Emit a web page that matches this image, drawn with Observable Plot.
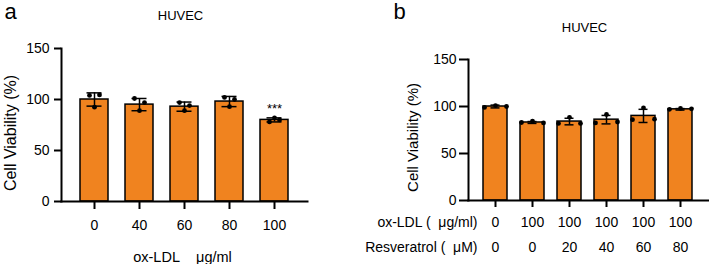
<!DOCTYPE html>
<html>
<head>
<meta charset="utf-8">
<script src="https://cdn.jsdelivr.net/npm/d3@7"></script>
<script src="https://cdn.jsdelivr.net/npm/@observablehq/plot@0.6"></script>
<style>
  html, body { margin: 0; padding: 0; background: #fff; }
  #wrap { display: flex; width: 709px; height: 264px; }
</style>
</head>
<body>
<div id="wrap"></div>
<script>
// ---------- Panel a data ----------
const catsA = ["0", "40", "60", "80", "100"];
const meanA = [100, 95, 93, 98, 80];
const sdA = [6.5, 6, 4.5, 5, 2];
const repLeftA = [104, 101, 97, 102, 78];
const repMidA = [92.5, 89, 89, 93, 82];
const repRightA = [104.5, 97, 94, 100, 80];
const sigA = ["", "", "", "", "***"];

// ---------- Panel b data ----------
const oxB = ["0", "100", "100", "100", "100", "100"];
const resB = ["0", "0", "20", "40", "60", "80"];
const meanB = [100, 83, 84, 86, 90, 97];
const sdB = [1.5, 1, 3.5, 4.5, 7, 0.8];
const repLeftB = [99, 83, 82, 82.5, 86, 97];
const repMidB = [101, 84.5, 88.5, 91.5, 98.5, 98];
const repRightB = [100, 82.5, 82, 83.5, 86.5, 97.5];

const yTicks = [0, 50, 100, 150];

const ORANGE = "#F0831F";
const FONT = "'Liberation Sans', Arial, Helvetica, sans-serif";

const dataA = catsA.map((c, i) => ({
  key: c, mean: meanA[i], sd: sdA[i],
  l: repLeftA[i], m: repMidA[i], r: repRightA[i], sig: sigA[i]
}));
const dataB = oxB.map((o, i) => ({
  key: o + "|" + resB[i], ox: o, res: resB[i], mean: meanB[i], sd: sdB[i],
  l: repLeftB[i], m: repMidB[i], r: repRightB[i]
}));

function barMarks(data, opts) {
  return [
    Plot.barY(data, {x: "key", y: "mean", fill: ORANGE, stroke: "black", strokeWidth: 1.5}),
    Plot.ruleX(data, {x: "key", y1: d => d.mean - d.sd, y2: d => d.mean + d.sd, stroke: "black", strokeWidth: 1.5}),
    Plot.tickY(data, {x: "key", y: d => d.mean + d.sd, stroke: "black", strokeWidth: 1.5, inset: opts.capInset}),
    Plot.tickY(data, {x: "key", y: d => d.mean - d.sd, stroke: "black", strokeWidth: 1.5, inset: opts.capInset}),
    Plot.dot(data, {x: "key", y: "l", dx: -opts.spread, r: 2.4, fill: "black"}),
    Plot.dot(data, {x: "key", y: "m", r: 2.4, fill: "black"}),
    Plot.dot(data, {x: "key", y: "r", dx: opts.spread, r: 2.4, fill: "black"})
  ];
}

// ---------- Panel a ----------
const plotA = Plot.plot({
  width: 355,
  height: 264,
  marginLeft: 61,
  marginRight: 48,
  marginTop: 48,
  marginBottom: 63,
  style: {fontFamily: FONT, background: "white", color: "black", overflow: "visible"},
  x: {domain: catsA, paddingInner: 0.38, paddingOuter: 0.42, label: null},
  y: {domain: [0, 150], label: null},
  marks: [
    ...barMarks(dataA, {capInset: 6.5, spread: 5}),
    Plot.text(dataA, {x: "key", y: d => d.mean + d.sd, text: "sig", dy: -9, fontSize: 13, fill: "black"}),
    Plot.frame({anchor: "left", stroke: "black", strokeWidth: 2}),
    Plot.frame({anchor: "bottom", stroke: "black", strokeWidth: 2}),
    Plot.axisY({ticks: yTicks, tickSize: 7, tickPadding: 5, fontSize: 14, strokeWidth: 2, label: null}),
    Plot.axisX({tickSize: 8, tickPadding: 11, fontSize: 14, strokeWidth: 2, label: null}),
    Plot.text(["a"], {frameAnchor: "top-left", dx: -57, dy: -30, lineAnchor: "bottom", textAnchor: "start", fontSize: 22, fill: "black"}),
    Plot.text(["HUVEC"], {frameAnchor: "top", dx: -4, dy: -33, lineAnchor: "middle", fontSize: 13, fill: "black"}),
    Plot.text(["Cell Viability (%)"], {frameAnchor: "left", dx: -51, dy: 8, rotate: -90, lineAnchor: "middle", textAnchor: "middle", fontSize: 16, fill: "black"}),
    Plot.text(["ox-LDL\u00a0\u00a0\u00a0 μg/ml"], {frameAnchor: "bottom", dx: -2, dy: 56, lineAnchor: "middle", fontSize: 14.5, fill: "black"})
  ]
});

// ---------- Panel b ----------
const plotB = Plot.plot({
  width: 354,
  height: 264,
  marginLeft: 113,
  marginRight: 1,
  marginTop: 59,
  marginBottom: 64,
  style: {fontFamily: FONT, background: "white", color: "black", overflow: "visible"},
  x: {domain: dataB.map(d => d.key), paddingInner: 0.35, paddingOuter: 0.38, label: null},
  y: {domain: [0, 150], label: null},
  marks: [
    ...barMarks(dataB, {capInset: 7.5, spread: 11}),
    Plot.frame({anchor: "left", stroke: "black", strokeWidth: 2}),
    Plot.frame({anchor: "bottom", stroke: "black", strokeWidth: 2}),
    Plot.axisY({ticks: yTicks, tickSize: 9, tickPadding: 3, fontSize: 14, strokeWidth: 2, label: null}),
    Plot.axisX({tickSize: 7, tickPadding: 10, fontSize: 14, strokeWidth: 2, label: null, tickFormat: d => d.split("|")[0]}),
    Plot.text(dataB, {x: "key", text: "res", frameAnchor: "bottom", dy: 47, lineAnchor: "middle", fontSize: 14, fill: "black"}),
    Plot.text(["ox-LDL (\u00a0 μg/ml)"], {frameAnchor: "bottom-left", dx: 9, dy: 22, textAnchor: "end", lineAnchor: "middle", fontSize: 14, fill: "black"}),
    Plot.text(["Resveratrol (\u00a0 μM)"], {frameAnchor: "bottom-left", dx: 9, dy: 47, textAnchor: "end", lineAnchor: "middle", fontSize: 14, fill: "black"}),
    Plot.text(["b"], {frameAnchor: "top-left", dx: -75, dy: -41, lineAnchor: "bottom", textAnchor: "start", fontSize: 22, fill: "black"}),
    Plot.text(["HUVEC"], {frameAnchor: "top", dx: -4, dy: -32, lineAnchor: "middle", fontSize: 13, fill: "black"}),
    Plot.text(["Cell Viability (%)"], {frameAnchor: "left", dx: -55, dy: 7.5, rotate: -90, lineAnchor: "middle", textAnchor: "middle", fontSize: 15, fill: "black"})
  ]
});

const wrap = document.getElementById("wrap");
wrap.appendChild(plotA);
wrap.appendChild(plotB);
</script>
</body>
</html>
